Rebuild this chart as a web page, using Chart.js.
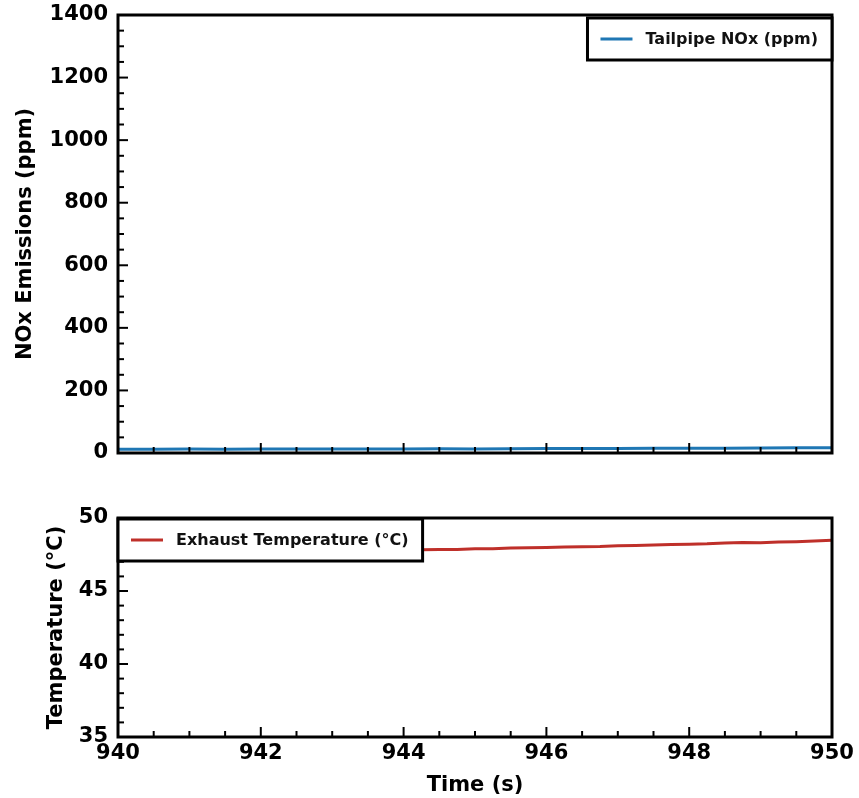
<!DOCTYPE html>
<html>
<head>
<meta charset="utf-8">
<script src="https://cdn.jsdelivr.net/npm/chart.js@4.4.1/dist/chart.umd.min.js"></script>
<style>
  html, body { margin: 0; padding: 0; background: #fff; }
  .box { position: absolute; left: 0; width: 859px; }
  #topBox { top: 0; height: 470px; }
  #botBox { top: 470px; height: 328px; }
</style>
</head>
<body>
<div class="box" id="topBox"><canvas id="noxChart"></canvas></div>
<div class="box" id="botBox"><canvas id="tempChart"></canvas></div>
<script>
// time axis (s)
const noxTime = [940, 940.5, 941, 941.5, 942, 942.5, 943, 943.5, 944, 944.5, 945,
  945.5, 946, 946.5, 947, 947.5, 948, 948.5, 949, 949.5, 950];
// tailpipe NOx (ppm)
const noxValues = [12, 12, 12.5, 12, 12.5, 13, 12.5, 13, 13, 13.5, 13,
  13.5, 14, 14, 14.5, 15, 15, 15.5, 16, 16.5, 17];

const tempTime = [940, 940.25, 940.5, 940.75, 941, 941.25, 941.5, 941.75, 942, 942.25,
  942.5, 942.75, 943, 943.25, 943.5, 943.75, 944, 944.25, 944.5, 944.75,
  945, 945.25, 945.5, 945.75, 946, 946.25, 946.5, 946.75, 947, 947.25,
  947.5, 947.75, 948, 948.25, 948.5, 948.75, 949, 949.25, 949.5, 949.75, 950];
// exhaust temperature (°C)
const tempValues = [47.40, 47.43, 47.44, 47.47, 47.50, 47.51, 47.55, 47.56, 47.60, 47.61,
  47.64, 47.66, 47.69, 47.70, 47.74, 47.75, 47.79, 47.82, 47.84, 47.85,
  47.89, 47.90, 47.94, 47.96, 47.98, 48.01, 48.03, 48.05, 48.10, 48.12,
  48.15, 48.18, 48.21, 48.23, 48.28, 48.33, 48.31, 48.36, 48.38, 48.42, 48.48];

const xTicks = [940, 942, 944, 946, 948, 950];
const noxTicks = [0, 200, 400, 600, 800, 1000, 1200, 1400];
const tempTicks = [35, 40, 45, 50];

const FONT = 'DejaVu Sans';

// frame, inward ticks and boxed legend, matplotlib style
const framePlugin = {
  id: 'frame',
  afterDatasetsDraw(chart, args, opts) {
    const ctx = chart.ctx;
    const a = chart.chartArea;
    const xs = chart.scales.x, ys = chart.scales.y;
    ctx.save();
    ctx.strokeStyle = '#000';
    ctx.lineWidth = 2;
    const tick = (px, len, horiz) => {
      ctx.beginPath();
      if (horiz) { ctx.moveTo(px, a.bottom); ctx.lineTo(px, a.bottom - len); }
      else { ctx.moveTo(a.left, px); ctx.lineTo(a.left + len, px); }
      ctx.stroke();
    };
    for (let v = xs.min; v <= xs.max + 1e-9; v += opts.xMinor) {
      const major = Math.abs(v / opts.xMajor - Math.round(v / opts.xMajor)) < 1e-6;
      tick(xs.getPixelForValue(v), major ? 10 : 6, true);
    }
    for (let v = ys.min; v <= ys.max + 1e-9; v += opts.yMinor) {
      const major = Math.abs(v / opts.yMajor - Math.round(v / opts.yMajor)) < 1e-6;
      tick(ys.getPixelForValue(v), major ? 10 : 6, false);
    }
    ctx.lineWidth = 3;
    ctx.strokeRect(a.left, a.top, a.right - a.left, a.bottom - a.top);

    // legend
    const ds = chart.data.datasets[0];
    ctx.font = 'bold 16px ' + FONT;
    const tw = ctx.measureText(ds.label).width;
    const w = 13 + 32 + 13 + tw + 14, h = 42;
    const lx = opts.legendRight ? a.right - w : a.left;
    const ly = a.top + opts.legendDy;
    ctx.fillStyle = '#fff';
    ctx.fillRect(lx, ly, w, h);
    ctx.strokeRect(lx, ly, w, h);
    ctx.strokeStyle = ds.borderColor;
    ctx.lineWidth = 3;
    ctx.beginPath();
    ctx.moveTo(lx + 13, ly + h / 2);
    ctx.lineTo(lx + 45, ly + h / 2);
    ctx.stroke();
    ctx.fillStyle = '#111';
    ctx.textBaseline = 'middle';
    ctx.fillText(ds.label, lx + 58, ly + h / 2 + 1);
    ctx.restore();
  }
};

function makeChart(id, cfg) {
  return new Chart(document.getElementById(id), {
    type: 'line',
    data: {
      datasets: [{
        label: cfg.label,
        data: cfg.x.map((t, i) => ({ x: t, y: cfg.y[i] })),
        borderColor: cfg.color,
        borderWidth: 3,
        pointRadius: 0,
        tension: 0
      }]
    },
    plugins: [framePlugin],
    options: {
      responsive: true,
      maintainAspectRatio: false,
      animation: false,
      layout: { padding: { top: cfg.padTop, right: 27, left: 0, bottom: 0 } },
      plugins: {
        legend: { display: false },
        tooltip: { enabled: false },
        frame: cfg.frame
      },
      scales: {
        x: {
          type: 'linear',
          min: 940,
          max: 950,
          // ticks are drawn by the plugin; tickLength only spaces the labels
          grid: { display: false, drawTicks: true, tickLength: 4 },
          border: { display: false },
          afterBuildTicks: s => { s.ticks = xTicks.map(v => ({ value: v })); },
          afterFit: s => { s.height = cfg.xHeight; },
          ticks: {
            display: cfg.showX,
            padding: 0,
            maxRotation: 0,
            autoSkip: false,
            color: '#000',
            callback: v => String(v),
            font: { family: FONT, size: 21, weight: 'bold' }
          },
          title: {
            display: cfg.showX,
            text: 'Time (s)',
            color: '#000',
            padding: { top: 0, bottom: 0 },
            font: { family: FONT, size: 21, weight: 'bold' }
          }
        },
        y: {
          type: 'linear',
          min: cfg.yMin,
          max: cfg.yMax,
          grid: { display: false, drawTicks: true, tickLength: 10 },
          border: { display: false },
          afterBuildTicks: s => { s.ticks = cfg.yTicks.map(v => ({ value: v })); },
          afterFit: s => { s.width = 118; },
          ticks: {
            padding: 0,
            color: '#000',
            callback: v => String(v),
            font: { family: FONT, size: 21, weight: 'bold' }
          },
          title: {
            display: true,
            text: cfg.yTitle,
            color: '#000',
            padding: { top: cfg.yTitlePad, bottom: 0 },
            font: { family: FONT, size: 21, weight: 'bold' }
          }
        }
      }
    }
  });
}

makeChart('noxChart', {
  label: 'Tailpipe NOx (ppm)',
  x: noxTime, y: noxValues,
  color: '#1f77b4',
  padTop: 15, xHeight: 17, showX: false,
  yMin: 0, yMax: 1400, yTicks: noxTicks,
  yTitle: 'NOx Emissions (ppm)', yTitlePad: 13,
  frame: { xMinor: 0.5, xMajor: 2, yMinor: 50, yMajor: 200, legendRight: true, legendDy: 3 }
});

makeChart('tempChart', {
  label: 'Exhaust Temperature (°C)',
  x: tempTime, y: tempValues,
  color: '#bf302a',
  padTop: 48, xHeight: 61, showX: true,
  yMin: 35, yMax: 50, yTicks: tempTicks,
  yTitle: 'Temperature (°C)', yTitlePad: 44,
  frame: { xMinor: 0.5, xMajor: 2, yMinor: 1, yMajor: 5, legendRight: false, legendDy: 1 }
});
</script>
</body>
</html>
